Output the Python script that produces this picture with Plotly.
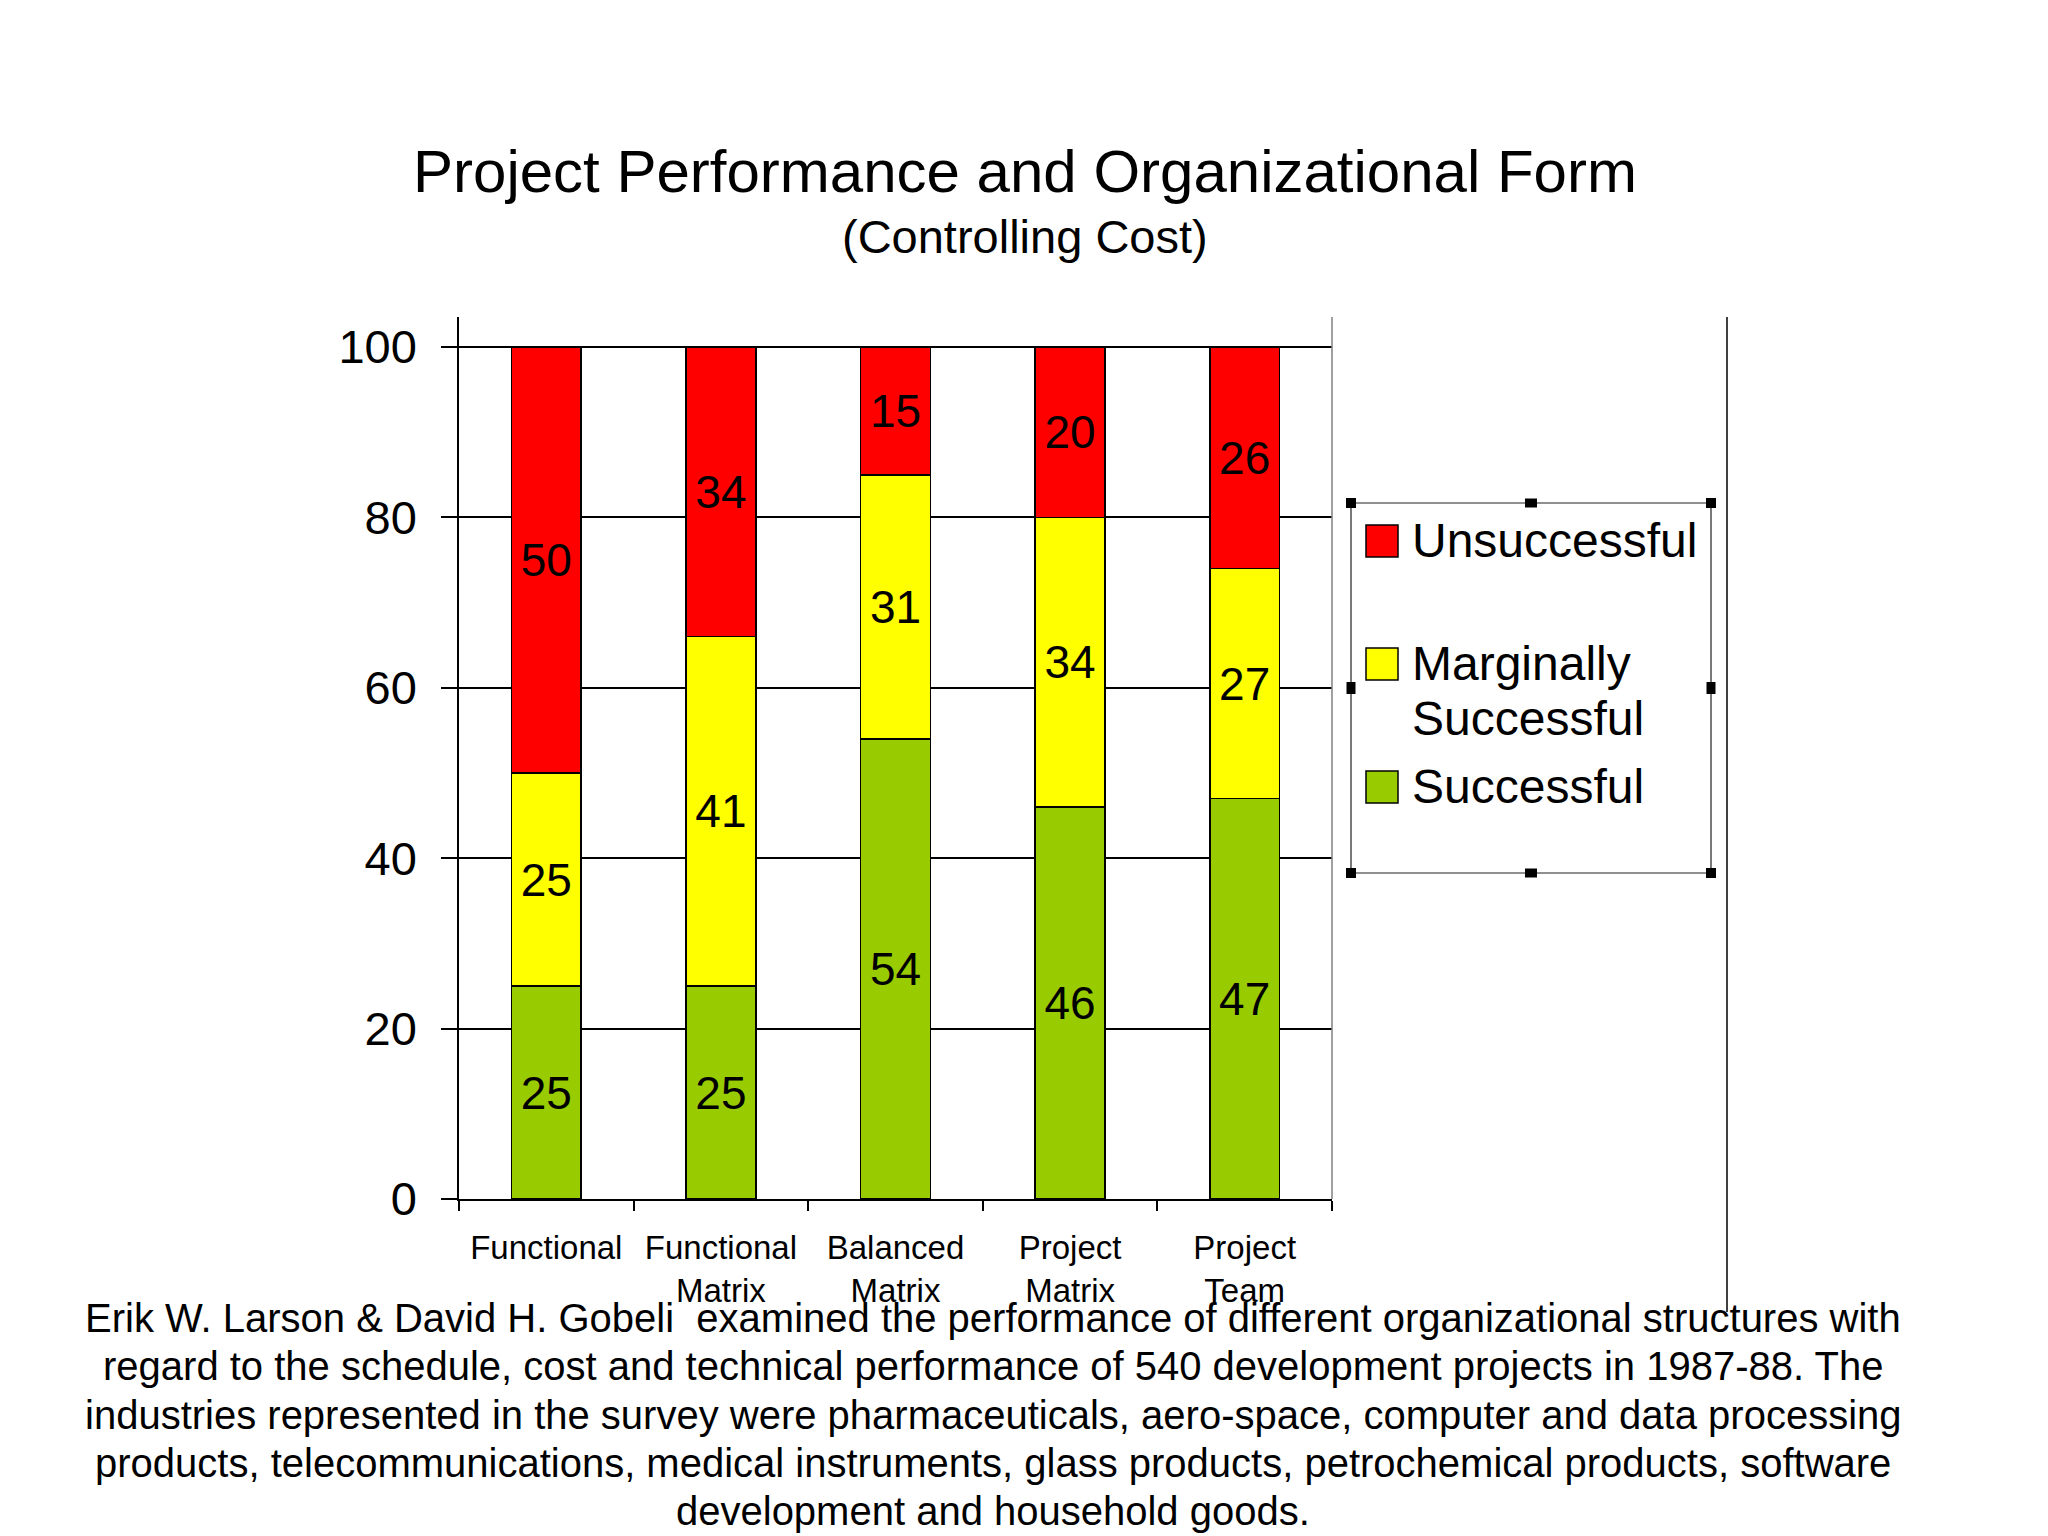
import plotly.graph_objects as go

# data
categories = ["Functional", "Functional<br>Matrix", "Balanced<br>Matrix",
              "Project<br>Matrix", "Project<br>Team"]
successful = [25, 25, 54, 46, 47]
marginal = [25, 41, 31, 34, 27]
unsuccessful = [50, 34, 15, 20, 26]
series_names = ["Successful", "Marginally Successful", "Unsuccessful"]
series_colors = ["#99CC00", "#FFFF00", "#FF0000"]
y_ticks = [0, 20, 40, 60, 80, 100]

title = "Project Performance and Organizational Form"
subtitle = "(Controlling Cost)"
note_lines = [
    "Erik W. Larson &amp; David H. Gobeli  examined the performance of different organizational structures with",
    "regard to the schedule, cost and technical performance of 540 development projects in 1987-88. The",
    "industries represented in the survey were pharmaceuticals, aero-space, computer and data processing",
    "products, telecommunications, medical instruments, glass products, petrochemical products, software",
    "development and household goods.",
]

FONT = "Liberation Sans, Arial, sans-serif"
PAGE_W, PAGE_H = 2048, 1536
OFF = 8                               # default body margin of the page
W, H = PAGE_W - OFF, PAGE_H - OFF
L, R, T, B = 459, 1332, 317, 1199    # plot area, page pixels
Y100 = 347                            # page row of the 100 gridline


def px_x(x):
    return (x - L) / (R - L)


def px_y(y):
    return (B - y) / (B - T)


fig = go.Figure()
for name, vals, col in zip(series_names, [successful, marginal, unsuccessful], series_colors):
    fig.add_trace(go.Bar(
        x=categories, y=vals, name=name, width=0.4,
        marker=dict(color=col, line=dict(color="black", width=1.5)),
        text=vals, textposition="inside", insidetextanchor="middle", textangle=0,
        textfont=dict(size=46, color="black", family=FONT),
        showlegend=False,
    ))

fig.update_layout(
    barmode="stack",
    width=W, height=H,
    margin=dict(l=L - OFF, r=PAGE_W - R, t=T - OFF, b=PAGE_H - B, pad=0),
    paper_bgcolor="white", plot_bgcolor="white",
    font=dict(family=FONT, color="black"),
    title=dict(text=title, x=(1025 - OFF) / W, xanchor="center", xref="container",
               y=1 - (171 - OFF) / H, yanchor="middle", yref="container",
               font=dict(size=60, color="black", family=FONT)),
)

fig.update_yaxes(
    range=[0, 100 * (B - T) / (B - Y100)], tickvals=y_ticks,
    showline=True, linecolor="black", linewidth=1.5,
    ticks="outside", ticklen=16, tickwidth=1.5, tickcolor="black",
    showgrid=True, gridcolor="black", gridwidth=1.5, zeroline=False,
    tickfont=dict(size=47, color="black"), ticklabelstandoff=15,
)
fig.update_xaxes(
    showline=True, linecolor="black", linewidth=1.5,
    ticks="outside", tickson="boundaries", ticklen=10, tickwidth=1.5, tickcolor="black",
    showgrid=False, tickfont=dict(size=33, color="black"), ticklabelstandoff=19,
)

shapes = []
# grey right border of the plot and the long divider line of the slide
shapes.append(dict(type="line", xref="paper", yref="paper", x0=1, x1=1, y0=0, y1=1,
                   line=dict(color="#808080", width=1.5)))
shapes.append(dict(type="line", xref="paper", yref="paper", x0=px_x(1727), x1=px_x(1727),
                   y0=px_y(317), y1=px_y(1312), line=dict(color="black", width=1.5)))

# legend box (drawn by hand so the swatches can be large)
lx0, lx1, ly0, ly1 = 1351, 1711, 503, 873
shapes.append(dict(type="rect", xref="paper", yref="paper",
                   x0=px_x(lx0), x1=px_x(lx1), y0=px_y(ly0), y1=px_y(ly1),
                   line=dict(color="#222222", width=1.2), fillcolor="rgba(0,0,0,0)"))
# selection handles on the legend box
lxm, lym = (lx0 + lx1) / 2, (ly0 + ly1) / 2
for hx, hy, hw, hh in [(lx0, ly0, 10, 10), (lx1, ly0, 10, 10), (lx0, ly1, 10, 10), (lx1, ly1, 10, 10),
                       (lxm, ly0, 12, 9), (lxm, ly1, 12, 9), (lx0, lym, 9, 12), (lx1, lym, 9, 12)]:
    shapes.append(dict(type="rect", xref="paper", yref="paper",
                       x0=px_x(hx - hw / 2), x1=px_x(hx + hw / 2),
                       y0=px_y(hy - hh / 2), y1=px_y(hy + hh / 2),
                       line=dict(width=0), fillcolor="black"))

annotations = []
legend_rows = [(series_colors[2], 541, ["Unsuccessful"]),
               (series_colors[1], 664, ["Marginally", "Successful"]),
               (series_colors[0], 787, ["Successful"])]
for col, cy, lines in legend_rows:
    shapes.append(dict(type="rect", xref="paper", yref="paper",
                       x0=px_x(1366), x1=px_x(1398), y0=px_y(cy - 16), y1=px_y(cy + 16),
                       line=dict(color="black", width=1.5), fillcolor=col))
    for i, ln in enumerate(lines):
        annotations.append(dict(text=ln, xref="paper", yref="paper", x=px_x(1410),
                                y=px_y(cy - 1 + 55 * i), xanchor="left", yanchor="middle",
                                showarrow=False, font=dict(size=48, color="black")))

annotations.append(dict(text=subtitle, xref="paper", yref="paper", x=px_x(1025), y=px_y(236),
                        xanchor="center", yanchor="middle", showarrow=False,
                        font=dict(size=47, color="black")))
for i, ln in enumerate(note_lines):
    annotations.append(dict(text=ln, xref="paper", yref="paper", x=px_x(993),
                            y=px_y(1318 + 48.3 * i), xanchor="center", yanchor="middle",
                            showarrow=False, font=dict(size=40, color="black")))

fig.update_layout(shapes=shapes, annotations=annotations)

fig.write_html("out.html")
